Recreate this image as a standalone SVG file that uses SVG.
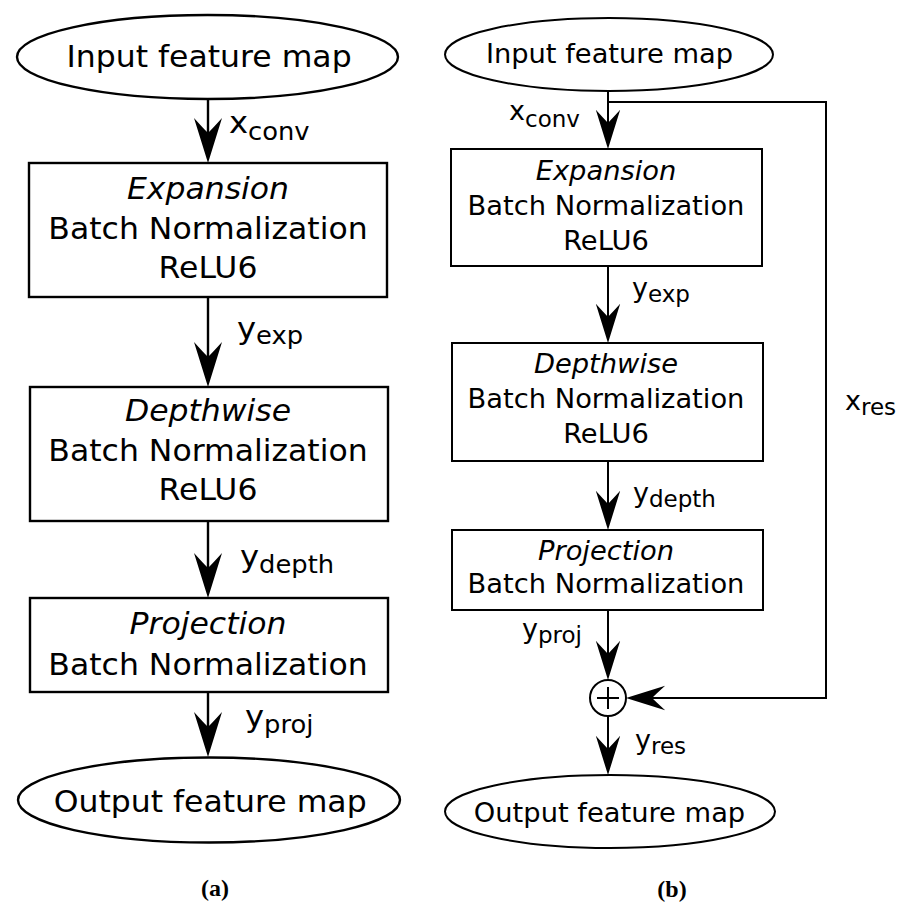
<svg xmlns="http://www.w3.org/2000/svg" xmlns:xlink="http://www.w3.org/1999/xlink" width="903" height="902" viewBox="0 0 903 902">
<style>
.s{fill:#fff;stroke:#000;stroke-width:2.4}
.sr{fill:#fff;stroke:#000;stroke-width:2}
.c{fill:none;stroke:#000;stroke-width:2.4}
.cr{fill:none;stroke:#000;stroke-width:2}
text{font-family:"DejaVu Sans",Verdana,sans-serif;fill:#000}
.tl{font-size:29.3px;text-anchor:middle}
.tr{font-size:27.3px;text-anchor:middle}
.i{font-style:italic}
.ml{font-size:30px}
.mr{font-size:27px}
.cap{font-family:"Liberation Serif","Times New Roman",serif;font-weight:bold;font-size:24px;text-anchor:middle}
</style>
<defs>
<path id="ah" d="M0,0 L-14,-45 Q-5,-35 0,-30 Q5,-35 14,-45 Z" fill="#000"/>
</defs>
<rect width="903" height="902" fill="#fff"/>

<!-- (a) -->
<g id="a_input"><ellipse class="s" cx="207.5" cy="57" rx="190.5" ry="42"/></g>
<g id="a_expansion"><rect class="s" x="29" y="163" width="358" height="134"/></g>
<g id="a_depthwise"><rect class="s" x="30" y="387" width="358" height="134"/></g>
<g id="a_projection"><rect class="s" x="30" y="598" width="358" height="94"/></g>
<g id="a_output"><ellipse class="s" cx="209" cy="800" rx="191" ry="42.5"/></g>

<g id="a_connectors">
<line class="c" x1="208" y1="99" x2="208" y2="150"/>
<use xlink:href="#ah" href="#ah" transform="translate(208,163)"/>
<line class="c" x1="208" y1="297" x2="208" y2="374"/>
<use xlink:href="#ah" href="#ah" transform="translate(208,387)"/>
<line class="c" x1="208" y1="521" x2="208" y2="585"/>
<use xlink:href="#ah" href="#ah" transform="translate(208,598)"/>
<line class="c" x1="208" y1="692" x2="208" y2="744"/>
<use xlink:href="#ah" href="#ah" transform="translate(208,757)"/>
</g>

<g id="a_text" transform="matrix(1.075,0,0,1,-15.6,0)">
<text class="tl" x="209" y="67">Input feature map</text>
<text class="tl i" x="208" y="199">Expansion</text>
<text class="tl" x="208" y="239">Batch Normalization</text>
<text class="tl" x="208" y="278">ReLU6</text>
<text class="tl i" x="208" y="421">Depthwise</text>
<text class="tl" x="208" y="461">Batch Normalization</text>
<text class="tl" x="208" y="500">ReLU6</text>
<text class="tl i" x="208" y="634">Projection</text>
<text class="tl" x="208" y="675">Batch Normalization</text>
<text class="tl" x="210" y="812">Output feature map</text>
<text class="ml" x="227.5" y="133">x<tspan font-size="24" dy="7">conv</tspan></text>
<text class="ml" x="235" y="339">y<tspan font-size="24" dy="5">exp</tspan></text>
<text class="ml" x="237.8" y="567">y<tspan font-size="24" dy="6">depth</tspan></text>
<text class="ml" x="242.4" y="727">y<tspan font-size="24" dy="6">proj</tspan></text>
</g>
<text class="cap" x="215" y="896">(a)</text>

<!-- (b) -->
<g id="b_input"><ellipse class="sr" cx="609" cy="54.5" rx="164" ry="36.5"/></g>
<g id="b_expansion"><rect class="sr" x="451" y="149" width="311" height="117"/></g>
<g id="b_depthwise"><rect class="sr" x="452" y="343" width="311" height="118"/></g>
<g id="b_projection"><rect class="sr" x="452" y="530" width="311" height="80"/></g>
<g id="b_add"><circle class="sr" cx="608" cy="698" r="18"/><path class="cr" d="M597,698 H619 M608,687 V709"/></g>
<g id="b_output"><ellipse class="sr" cx="610" cy="811.5" rx="165" ry="36.5"/></g>

<g id="b_connectors">
<line class="cr" x1="608" y1="91" x2="608" y2="138"/>
<use xlink:href="#ah" href="#ah" transform="translate(608,149) scale(0.87)"/>
<polyline class="cr" points="608,102 826,102 826,698 640,698"/>
<use xlink:href="#ah" href="#ah" transform="translate(626,698) rotate(90) scale(0.87)"/>
<line class="cr" x1="608" y1="266" x2="608" y2="332"/>
<use xlink:href="#ah" href="#ah" transform="translate(608,343) scale(0.87)"/>
<line class="cr" x1="608" y1="461" x2="608" y2="519"/>
<use xlink:href="#ah" href="#ah" transform="translate(608,530) scale(0.87)"/>
<line class="cr" x1="608" y1="610" x2="608" y2="669"/>
<use xlink:href="#ah" href="#ah" transform="translate(608,680) scale(0.87)"/>
<line class="cr" x1="608" y1="716" x2="608" y2="764"/>
<use xlink:href="#ah" href="#ah" transform="translate(608,775) scale(0.87)"/>
</g>

<g id="b_text">
<text class="tr" x="609.5" y="63">Input feature map</text>
<text class="tr i" x="606" y="180">Expansion</text>
<text class="tr" x="606" y="215">Batch Normalization</text>
<text class="tr" x="606" y="250">ReLU6</text>
<text class="tr i" x="606" y="373">Depthwise</text>
<text class="tr" x="606" y="408">Batch Normalization</text>
<text class="tr" x="606" y="443">ReLU6</text>
<text class="tr i" x="606" y="560">Projection</text>
<text class="tr" x="606" y="593">Batch Normalization</text>
<text class="tr" x="609.5" y="822">Output feature map</text>
<text class="mr" x="509" y="120">x<tspan font-size="23" dy="7">conv</tspan></text>
<text class="mr" x="632" y="297">y<tspan font-size="23" dy="5">exp</tspan></text>
<text class="mr" x="633" y="502">y<tspan font-size="23" dy="5">depth</tspan></text>
<text class="mr" x="522" y="638">y<tspan font-size="23" dy="5">proj</tspan></text>
<text class="mr" x="635" y="749">y<tspan font-size="23" dy="5">res</tspan></text>
<text class="mr" x="845" y="410">x<tspan font-size="23" dy="5">res</tspan></text>
</g>
<text class="cap" x="672" y="897">(b)</text>
</svg>
